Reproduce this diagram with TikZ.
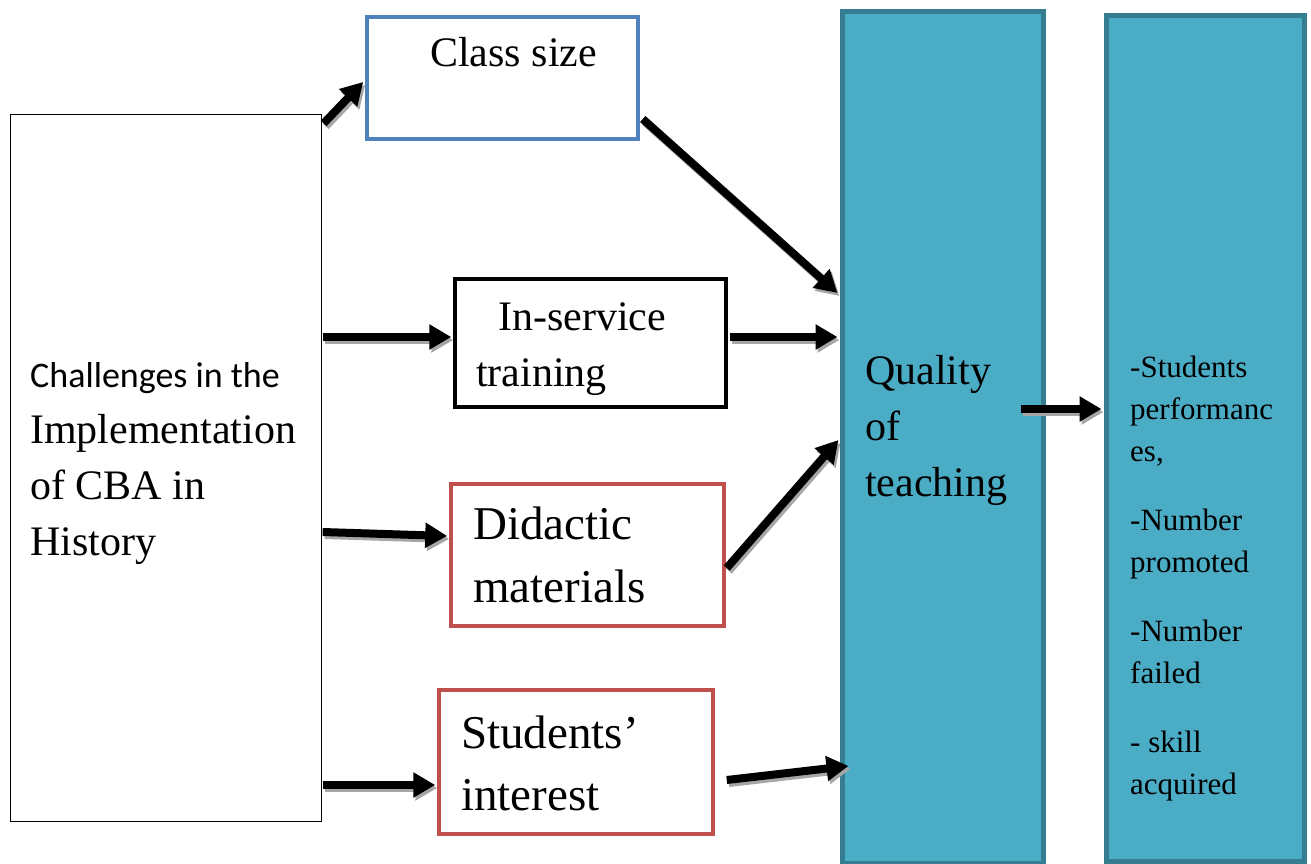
\documentclass[tikz,border=0pt]{standalone}
\usepackage{fontspec}
\setmainfont{Liberation Serif}
\newfontfamily\calib{Carlito}
\usetikzlibrary{arrows.meta,calc}
\definecolor{qfill}{HTML}{4BACC6}
\definecolor{qedge}{HTML}{357D91}
\definecolor{bblue}{HTML}{4F81BD}
\definecolor{bred}{HTML}{C0504D}
\definecolor{shade}{HTML}{A6A6A6}
\tikzset{
  box/.style={draw, rectangle, inner sep=0pt, line width=#1},
  col/.style={draw=qedge, fill=qfill, line width=5pt, rectangle, inner sep=0pt},
  txt/.style={anchor=base west, inner sep=0pt, font=\fontsize{42}{50}\selectfont},
  bigtxt/.style={anchor=base west, inner sep=0pt, font=\fontsize{47}{56}\selectfont},
  smalltxt/.style={anchor=base west, inner sep=0pt, font=\fontsize{31}{37}\selectfont},
  flow/.style={line width=8pt, -{Triangle[length=22pt,width=24pt]}},
  flowshadow/.style={flow, draw=shade, fill=shade},
}
\newcommand\shadowarrow[2]{%
  \draw[flowshadow] ($(#1)+(2,3)$) -- ($(#2)+(2,3)$);
  \draw[flow] (#1) -- (#2);}
\begin{document}
\begin{tikzpicture}[x=1pt,y=-1pt]
\useasboundingbox (0,0) rectangle (1311,864);
% boxes
\node[box=1.3pt, minimum width=311pt, minimum height=707pt] (L) at (166,468) {};
\node[box=3.8pt, draw=bblue, minimum width=271.2pt, minimum height=122.2pt] (C) at (502.5,78) {};
\node[box=4pt, minimum width=271pt, minimum height=128pt] (I) at (590.5,343) {};
\node[box=3.8pt, draw=bred, minimum width=273.2pt, minimum height=142.2pt] (D) at (587.5,555) {};
\node[box=3.8pt, draw=bred, minimum width=274.2pt, minimum height=144.2pt] (S) at (576,762) {};
\node[col, minimum width=201pt, minimum height=852pt] (Q) at (943,437.5) {};
\node[col, minimum width=198pt, minimum height=846pt] (R) at (1205.5,438.5) {};
% texts
\node[txt] (tc) at (430,67) {Class size};
\node[txt] (ti1) at (498,330) {In-service};
\node[txt] (ti2) at (476,386) {training};
\node[anchor=base west, inner sep=0pt, font=\calib\fontsize{36}{42}\selectfont] (tl1) at (30,387) {Challenges in the};
\node[txt] (tl2) at (30,443) {Implementation};
\node[txt] (tl3) at (30,499) {of CBA in};
\node[txt] (tl4) at (30,555) {History};
\node[bigtxt] (td1) at (473,539) {Didactic};
\node[bigtxt] (td2) at (473,602) {materials};
\node[bigtxt] (ts1) at (461,748) {Students’};
\node[bigtxt] (ts2) at (461,810) {interest};
\node[txt] (tq1) at (865,384) {Quality};
\node[txt] (tq2) at (865,440) {of};
\node[txt] (tq3) at (865,496) {teaching};
\node[smalltxt] (tr1) at (1130,377) {-Students};
\node[smalltxt] (tr2) at (1130,419) {performanc};
\node[smalltxt] (tr3) at (1130,461) {es,};
\node[smalltxt] (tr4) at (1130,530) {-Number};
\node[smalltxt] (tr5) at (1130,572) {promoted};
\node[smalltxt] (tr6) at (1130,641) {-Number};
\node[smalltxt] (tr7) at (1130,683) {failed};
\node[smalltxt] (tr8) at (1130,752) {- skill};
\node[smalltxt] (tr9) at (1130,794) {acquired};
% arrow end points
\coordinate (a1s) at ($(L.north east)+(1.5,9.5)$);
\coordinate (a1e) at ($(C.west)+(-1.75,4)$);
\coordinate (a2s) at ($(C.east)+(2.75,41)$);
\coordinate (a2e) at ($(Q.west)+(-2.5,-144.5)$);
\coordinate (a3s) at ($(L.east)+(0.5,-131)$);
\coordinate (a3e) at ($(I.west)+(-1.75,-6)$);
\coordinate (a4s) at ($(I.east)+(1.75,-6)$);
\coordinate (a4e) at ($(Q.west)+(-2.5,-100.5)$);
\coordinate (a5s) at ($(L.east)+(0.5,64)$);
\coordinate (a5e) at ($(D.west)+(-1.75,-19)$);
\coordinate (a6s) at ($(D.east)+(0.75,13)$);
\coordinate (a6e) at ($(Q.west)+(-1.5,2.5)$);
\coordinate (a7s) at ($(L.east)+(0.5,317)$);
\coordinate (a7e) at ($(S.west)+(-1.75,23)$);
\coordinate (a8s) at ($(S.east)+(11.75,18)$);
\coordinate (a8e) at ($(Q.west)+(8.5,328.5)$);
\coordinate (a9s) at ($(Q.east)+(-25.5,-28.5)$);
\coordinate (a9e) at ($(R.west)+(-2.5,-29.5)$);
\shadowarrow{a1s}{a1e}
\shadowarrow{a2s}{a2e}
\shadowarrow{a3s}{a3e}
\shadowarrow{a4s}{a4e}
\shadowarrow{a5s}{a5e}
\shadowarrow{a6s}{a6e}
\shadowarrow{a7s}{a7e}
\shadowarrow{a8s}{a8e}
\shadowarrow{a9s}{a9e}
\end{tikzpicture}
\end{document}
